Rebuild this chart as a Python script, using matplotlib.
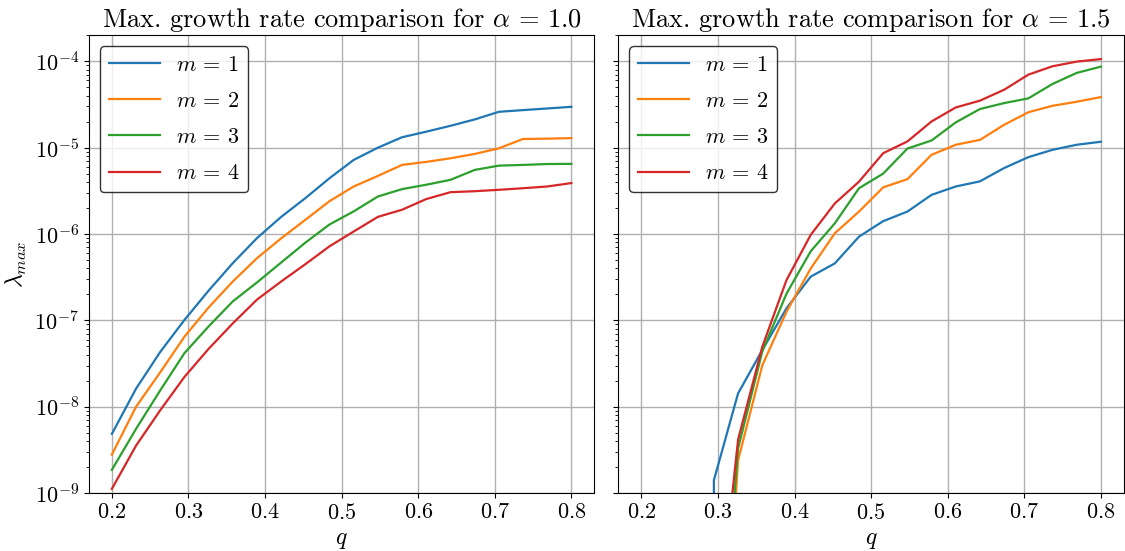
import matplotlib
matplotlib.use("Agg")
import matplotlib.pyplot as plt

plt.rcParams.update({
    "font.family": "serif",
    "font.serif": ["cmr10"],
    "mathtext.fontset": "cm",
    "axes.formatter.use_mathtext": True,
    "axes.unicode_minus": False,
})

# q grid shared by both runs
q = [0.2000, 0.2316, 0.2632, 0.2947, 0.3263, 0.3579, 0.3895, 0.4211, 0.4526, 0.4842,
     0.5158, 0.5474, 0.5789, 0.6105, 0.6421, 0.6737, 0.7053, 0.7368, 0.7684, 0.8000]

m_labels = [r"$m\,=\,1$", r"$m\,=\,2$", r"$m\,=\,3$", r"$m\,=\,4$"]

# alpha = 1.0
a10_m1 = [4.85e-9, 1.62e-8, 4.32e-8, 1.01e-7, 2.21e-7, 4.60e-7, 8.97e-7, 1.58e-6, 2.60e-6, 4.43e-6,
          7.21e-6, 1.00e-5, 1.32e-5, 1.53e-5, 1.79e-5, 2.12e-5, 2.60e-5, 2.72e-5, 2.84e-5, 2.97e-5]
a10_m2 = [2.79e-9, 1.00e-8, 2.51e-8, 6.46e-8, 1.41e-7, 2.82e-7, 5.25e-7, 8.91e-7, 1.46e-6, 2.40e-6,
          3.55e-6, 4.71e-6, 6.31e-6, 6.84e-6, 7.53e-6, 8.45e-6, 9.82e-6, 1.26e-5, 1.27e-5, 1.29e-5]
a10_m3 = [1.86e-9, 5.55e-9, 1.55e-8, 4.17e-8, 8.51e-8, 1.66e-7, 2.75e-7, 4.68e-7, 7.94e-7, 1.29e-6,
          1.83e-6, 2.72e-6, 3.31e-6, 3.72e-6, 4.24e-6, 5.52e-6, 6.19e-6, 6.31e-6, 6.46e-6, 6.49e-6]
a10_m4 = [1.12e-9, 3.55e-9, 9.12e-9, 2.21e-8, 4.68e-8, 9.23e-8, 1.74e-7, 2.82e-7, 4.47e-7, 7.21e-7,
          1.07e-6, 1.58e-6, 1.91e-6, 2.54e-6, 3.05e-6, 3.13e-6, 3.25e-6, 3.39e-6, 3.55e-6, 3.89e-6]

# alpha = 1.5 (zeros: no growth, fall off the log axis)
a15_m1 = [0.0, 0.0, 0.0, 1.41e-9, 1.43e-8, 4.53e-8, 1.38e-7, 3.21e-7, 4.57e-7, 9.33e-7,
          1.41e-6, 1.82e-6, 2.84e-6, 3.55e-6, 4.07e-6, 5.81e-6, 7.76e-6, 9.44e-6, 1.08e-5, 1.17e-5]
a15_m2 = [0.0, 0.0, 0.0, 1.0e-13, 2.40e-9, 3.02e-8, 1.26e-7, 3.98e-7, 1.02e-6, 1.82e-6,
          3.47e-6, 4.32e-6, 8.26e-6, 1.08e-5, 1.23e-5, 1.84e-5, 2.57e-5, 3.05e-5, 3.40e-5, 3.85e-5]
a15_m3 = [0.0, 0.0, 0.0, 1.0e-12, 3.30e-9, 4.37e-8, 2.04e-7, 6.31e-7, 1.33e-6, 3.39e-6,
          5.01e-6, 9.77e-6, 1.21e-5, 1.96e-5, 2.80e-5, 3.28e-5, 3.72e-5, 5.46e-5, 7.33e-5, 8.67e-5]
a15_m4 = [0.0, 0.0, 0.0, 1.0e-11, 4.17e-9, 4.95e-8, 2.93e-7, 9.77e-7, 2.26e-6, 4.04e-6,
          8.63e-6, 1.18e-5, 2.01e-5, 2.92e-5, 3.50e-5, 4.68e-5, 7.00e-5, 8.75e-5, 9.91e-5, 1.06e-4]

panels = [("1.0", [a10_m1, a10_m2, a10_m3, a10_m4]),
          ("1.5", [a15_m1, a15_m2, a15_m3, a15_m4])]

fig, axes = plt.subplots(1, 2, figsize=(11.25, 5.51), dpi=100, sharey=True)

for ax, (alpha, series) in zip(axes, panels):
    for vals, lab in zip(series, m_labels):
        ax.plot(q, vals, label=lab, linewidth=1.6)
    ax.set_yscale("log", nonpositive="clip")
    ax.set_ylim(1e-9, 2e-4)
    ax.grid(True, which="major", color="#b0b0b0", linewidth=1.0)
    ax.set_title(r"Max. growth rate comparison for $\alpha\,=\,%s$" % alpha, fontsize=19)
    ax.set_xlabel("$q$", fontsize=17)
    ax.tick_params(labelsize=16)
    ax.legend(loc="upper left", fontsize=16, handlelength=2.3, handletextpad=0.7,
              labelspacing=0.75, fancybox=True, framealpha=0.8, edgecolor="black")

axes[0].set_ylabel(r"$\lambda_{max}$", fontsize=17)
axes[0].set_xticks([0.2, 0.3, 0.4, 0.5, 0.6, 0.7, 0.8])

plt.subplots_adjust(left=0.079, right=0.999, bottom=0.105, top=0.936, wspace=0.0475)
plt.savefig("out.png", dpi=100, facecolor="white")
plt.close()
